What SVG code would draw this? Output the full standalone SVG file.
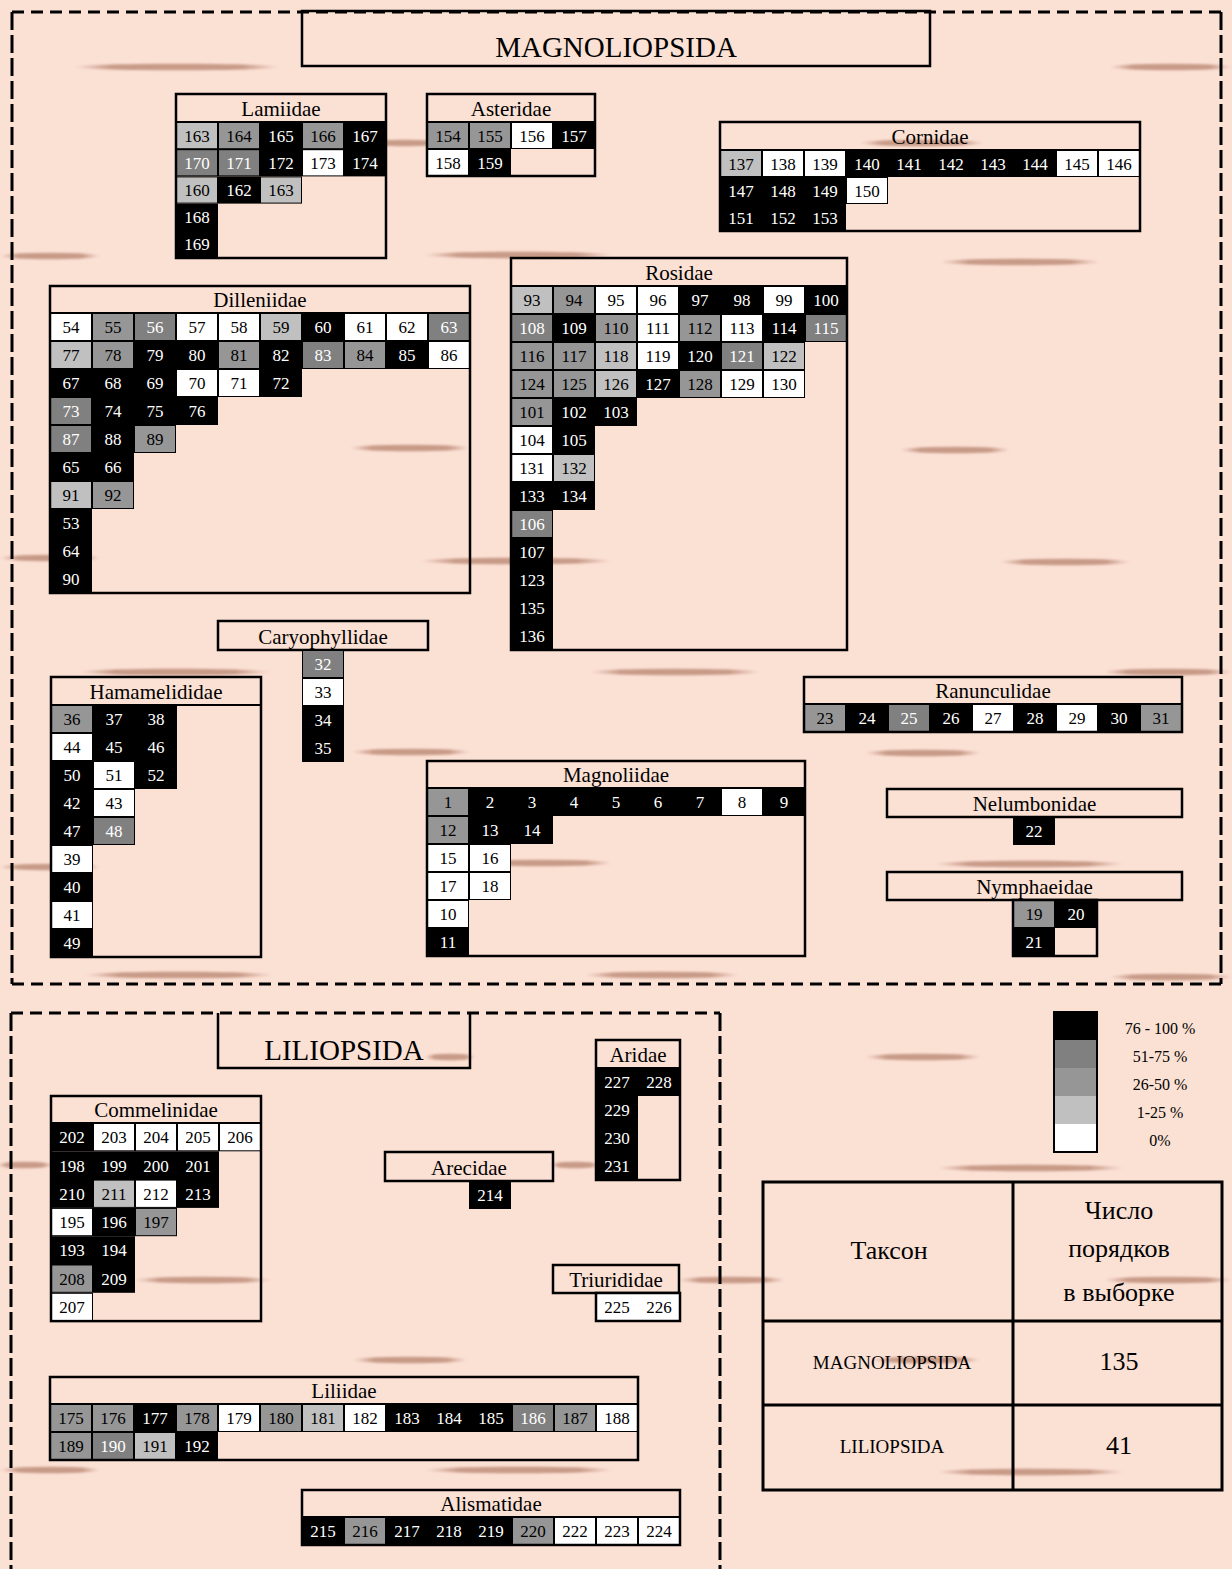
<svg xmlns="http://www.w3.org/2000/svg" width="1232" height="1569" viewBox="0 0 1232 1569">
<defs>
<linearGradient id="sg" x1="0" y1="0" x2="1" y2="0">
<stop offset="0" stop-color="#c39481" stop-opacity="0"/>
<stop offset="0.18" stop-color="#c39481" stop-opacity="0.9"/>
<stop offset="0.82" stop-color="#c39481" stop-opacity="0.9"/>
<stop offset="1" stop-color="#c39481" stop-opacity="0"/>
</linearGradient>
<filter id="bl" x="-10%" y="-200%" width="120%" height="500%"><feGaussianBlur stdDeviation="1.2"/></filter>
</defs>
<style>
.B{fill:#000}.W{fill:#fff}.L{fill:#c0c0c0}.M{fill:#969696}.D{fill:#808080}
.t{font-family:"Liberation Serif","Times New Roman",serif;font-size:17px;text-anchor:middle;fill:#000}
.w{fill:#fff}
.h{font-family:"Liberation Serif","Times New Roman",serif;font-size:21px;text-anchor:middle;fill:#000}
.ttl{font-family:"Liberation Serif","Times New Roman",serif;font-size:29px;text-anchor:middle;fill:#000}
.lg{font-family:"Liberation Serif","Times New Roman",serif;font-size:16px;text-anchor:middle;fill:#000}
.tb{font-family:"Liberation Serif","Times New Roman",serif;font-size:26px;text-anchor:middle;fill:#000}
.tbs{font-family:"Liberation Serif","Times New Roman",serif;font-size:19px;text-anchor:middle;fill:#000}
.o{fill:none;stroke:#000;stroke-width:2.5}
.hl{stroke:#000;stroke-width:2}
.dh{stroke:#000;stroke-width:3;stroke-dasharray:12 7;fill:none}
.dv{stroke:#000;stroke-width:3;stroke-dasharray:18 5;fill:none}
.st{fill:url(#sg);filter:url(#bl)}
</style>
<rect x="0" y="0" width="1232" height="1569" fill="#fbe0d4"/>
<g id="streaks">
<ellipse class="st" cx="177" cy="67" rx="103" ry="3.3"/>
<ellipse class="st" cx="1171" cy="67" rx="61" ry="3.3"/>
<ellipse class="st" cx="405" cy="143" rx="35" ry="3.3"/>
<ellipse class="st" cx="922" cy="143" rx="62" ry="3.3"/>
<ellipse class="st" cx="50" cy="256" rx="50" ry="3.3"/>
<ellipse class="st" cx="518" cy="255" rx="94" ry="3.3"/>
<ellipse class="st" cx="1020" cy="262" rx="80" ry="3.3"/>
<ellipse class="st" cx="410" cy="448" rx="60" ry="3.3"/>
<ellipse class="st" cx="955" cy="450" rx="55" ry="3.3"/>
<ellipse class="st" cx="516" cy="561" rx="96" ry="3.3"/>
<ellipse class="st" cx="50" cy="558" rx="50" ry="3.3"/>
<ellipse class="st" cx="1065" cy="562" rx="65" ry="3.3"/>
<ellipse class="st" cx="175" cy="672" rx="95" ry="3.3"/>
<ellipse class="st" cx="675" cy="672" rx="85" ry="3.3"/>
<ellipse class="st" cx="1168" cy="672" rx="64" ry="3.3"/>
<ellipse class="st" cx="411" cy="752" rx="59" ry="3.3"/>
<ellipse class="st" cx="923" cy="753" rx="58" ry="3.3"/>
<ellipse class="st" cx="50" cy="867" rx="50" ry="3.3"/>
<ellipse class="st" cx="541" cy="863" rx="71" ry="3.3"/>
<ellipse class="st" cx="1029" cy="864" rx="94" ry="3.3"/>
<ellipse class="st" cx="179" cy="975" rx="94" ry="3.3"/>
<ellipse class="st" cx="662" cy="975" rx="77" ry="3.3"/>
<ellipse class="st" cx="1171" cy="977" rx="61" ry="3.3"/>
<ellipse class="st" cx="450" cy="1057" rx="25" ry="3.3"/>
<ellipse class="st" cx="923" cy="1057" rx="58" ry="3.3"/>
<ellipse class="st" cx="25" cy="1165" rx="28" ry="3.3"/>
<ellipse class="st" cx="575" cy="1165" rx="25" ry="3.3"/>
<ellipse class="st" cx="1030" cy="1168" rx="93" ry="3.3"/>
<ellipse class="st" cx="203" cy="1280" rx="68" ry="3.3"/>
<ellipse class="st" cx="732" cy="1280" rx="53" ry="3.3"/>
<ellipse class="st" cx="1168" cy="1280" rx="64" ry="3.3"/>
<ellipse class="st" cx="926" cy="1360" rx="54" ry="3.3"/>
<ellipse class="st" cx="410" cy="1360" rx="57" ry="3.3"/>
<ellipse class="st" cx="50" cy="1470" rx="50" ry="3.3"/>
<ellipse class="st" cx="519" cy="1470" rx="94" ry="3.3"/>
<ellipse class="st" cx="1030" cy="1472" rx="93" ry="3.3"/>
</g>
<g id="frames">
<line class="dh" x1="12" y1="12" x2="1221" y2="12"/>
<line class="dh" x1="12" y1="984" x2="1221" y2="984"/>
<line class="dv" x1="12" y1="12" x2="12" y2="984"/>
<line class="dv" x1="1221" y1="12" x2="1221" y2="984"/>
<line class="dh" x1="11" y1="1013" x2="720" y2="1013"/>
<line class="dv" x1="11" y1="1013" x2="11" y2="1569"/>
<line class="dv" x1="720" y1="1013" x2="720" y2="1569"/>
</g>
<g id="magnoliopsida-title">
<rect class="o" x="302" y="11" width="628" height="55"/>
<text class="ttl" x="616" y="57">MAGNOLIOPSIDA</text>
</g>
<g id="liliopsida-title">
<path class="o" d="M218,1013 V1068 H470 V1013"/>
<text class="ttl" x="344" y="1060">LILIOPSIDA</text>
</g>
<g id="lamiidae">
<rect class="B" x="176" y="122" width="210" height="54.4"/>
<rect class="B" x="176" y="176.4" width="126" height="27.2"/>
<rect class="B" x="176" y="203.6" width="42" height="54.4"/>
<rect class="L" x="177" y="123" width="40" height="25.2"/>
<rect class="M" x="219" y="123" width="40" height="25.2"/>
<rect class="M" x="303" y="123" width="40" height="25.2"/>
<rect class="D" x="177" y="150.2" width="40" height="25.2"/>
<rect class="D" x="219" y="150.2" width="40" height="25.2"/>
<rect class="W" x="303" y="150.2" width="40" height="25.2"/>
<rect class="L" x="177" y="177.4" width="40" height="25.2"/>
<rect class="L" x="261" y="177.4" width="40" height="25.2"/>
<rect class="o" x="176" y="94" width="210" height="164"/>
<line class="hl" x1="176" y1="122" x2="386" y2="122"/>
<text class="h" x="281" y="116">Lamiidae</text>
<text class="t" x="197" y="141.6">163</text><text class="t" x="239" y="141.6">164</text><text class="t w" x="281" y="141.6">165</text><text class="t" x="323" y="141.6">166</text><text class="t w" x="365" y="141.6">167</text>
<text class="t w" x="197" y="168.8">170</text><text class="t w" x="239" y="168.8">171</text><text class="t w" x="281" y="168.8">172</text><text class="t" x="323" y="168.8">173</text><text class="t w" x="365" y="168.8">174</text>
<text class="t" x="197" y="196">160</text><text class="t w" x="239" y="196">162</text><text class="t" x="281" y="196">163</text>
<text class="t w" x="197" y="223.2">168</text>
<text class="t w" x="197" y="250.4">169</text>
</g>
<g id="asteridae">
<rect class="B" x="427" y="122" width="168" height="27"/>
<rect class="B" x="427" y="149" width="84" height="27"/>
<rect class="M" x="428" y="123" width="40" height="25"/>
<rect class="M" x="470" y="123" width="40" height="25"/>
<rect class="W" x="512" y="123" width="40" height="25"/>
<rect class="W" x="428" y="150" width="40" height="25"/>
<rect class="o" x="427" y="94" width="168" height="82"/>
<line class="hl" x1="427" y1="122" x2="595" y2="122"/>
<text class="h" x="511" y="116">Asteridae</text>
<text class="t" x="448" y="141.5">154</text><text class="t" x="490" y="141.5">155</text><text class="t" x="532" y="141.5">156</text><text class="t w" x="574" y="141.5">157</text>
<text class="t" x="448" y="168.5">158</text><text class="t w" x="490" y="168.5">159</text>
</g>
<g id="cornidae">
<rect class="B" x="720" y="150" width="420" height="27"/>
<rect class="B" x="720" y="177" width="168" height="27"/>
<rect class="B" x="720" y="204" width="126" height="27"/>
<rect class="L" x="721" y="151" width="40" height="25"/>
<rect class="W" x="763" y="151" width="40" height="25"/>
<rect class="W" x="805" y="151" width="40" height="25"/>
<rect class="W" x="1057" y="151" width="40" height="25"/>
<rect class="W" x="1099" y="151" width="40" height="25"/>
<rect class="W" x="847" y="178" width="40" height="25"/>
<rect class="o" x="720" y="122" width="420" height="109"/>
<line class="hl" x1="720" y1="150" x2="1140" y2="150"/>
<text class="h" x="930" y="144">Cornidae</text>
<text class="t" x="741" y="169.5">137</text><text class="t" x="783" y="169.5">138</text><text class="t" x="825" y="169.5">139</text><text class="t w" x="867" y="169.5">140</text><text class="t w" x="909" y="169.5">141</text><text class="t w" x="951" y="169.5">142</text><text class="t w" x="993" y="169.5">143</text><text class="t w" x="1035" y="169.5">144</text><text class="t" x="1077" y="169.5">145</text><text class="t" x="1119" y="169.5">146</text>
<text class="t w" x="741" y="196.5">147</text><text class="t w" x="783" y="196.5">148</text><text class="t w" x="825" y="196.5">149</text><text class="t" x="867" y="196.5">150</text>
<text class="t w" x="741" y="223.5">151</text><text class="t w" x="783" y="223.5">152</text><text class="t w" x="825" y="223.5">153</text>
</g>
<g id="dilleniidae">
<rect class="B" x="50" y="313" width="420" height="56"/>
<rect class="B" x="50" y="369" width="252" height="28"/>
<rect class="B" x="50" y="397" width="168" height="28"/>
<rect class="B" x="50" y="425" width="126" height="28"/>
<rect class="B" x="50" y="453" width="84" height="56"/>
<rect class="B" x="50" y="509" width="42" height="84"/>
<rect class="W" x="51" y="314" width="40" height="26"/>
<rect class="M" x="93" y="314" width="40" height="26"/>
<rect class="D" x="135" y="314" width="40" height="26"/>
<rect class="W" x="177" y="314" width="40" height="26"/>
<rect class="W" x="219" y="314" width="40" height="26"/>
<rect class="L" x="261" y="314" width="40" height="26"/>
<rect class="W" x="345" y="314" width="40" height="26"/>
<rect class="W" x="387" y="314" width="40" height="26"/>
<rect class="D" x="429" y="314" width="40" height="26"/>
<rect class="L" x="51" y="342" width="40" height="26"/>
<rect class="M" x="93" y="342" width="40" height="26"/>
<rect class="M" x="219" y="342" width="40" height="26"/>
<rect class="D" x="303" y="342" width="40" height="26"/>
<rect class="M" x="345" y="342" width="40" height="26"/>
<rect class="W" x="429" y="342" width="40" height="26"/>
<rect class="W" x="177" y="370" width="40" height="26"/>
<rect class="W" x="219" y="370" width="40" height="26"/>
<rect class="D" x="51" y="398" width="40" height="26"/>
<rect class="D" x="51" y="426" width="40" height="26"/>
<rect class="M" x="135" y="426" width="40" height="26"/>
<rect class="L" x="51" y="482" width="40" height="26"/>
<rect class="M" x="93" y="482" width="40" height="26"/>
<rect class="o" x="50" y="286" width="420" height="307"/>
<line class="hl" x1="50" y1="313" x2="470" y2="313"/>
<text class="h" x="260" y="307">Dilleniidae</text>
<text class="t" x="71" y="333">54</text><text class="t" x="113" y="333">55</text><text class="t w" x="155" y="333">56</text><text class="t" x="197" y="333">57</text><text class="t" x="239" y="333">58</text><text class="t" x="281" y="333">59</text><text class="t w" x="323" y="333">60</text><text class="t" x="365" y="333">61</text><text class="t" x="407" y="333">62</text><text class="t w" x="449" y="333">63</text>
<text class="t" x="71" y="361">77</text><text class="t" x="113" y="361">78</text><text class="t w" x="155" y="361">79</text><text class="t w" x="197" y="361">80</text><text class="t" x="239" y="361">81</text><text class="t w" x="281" y="361">82</text><text class="t w" x="323" y="361">83</text><text class="t" x="365" y="361">84</text><text class="t w" x="407" y="361">85</text><text class="t" x="449" y="361">86</text>
<text class="t w" x="71" y="389">67</text><text class="t w" x="113" y="389">68</text><text class="t w" x="155" y="389">69</text><text class="t" x="197" y="389">70</text><text class="t" x="239" y="389">71</text><text class="t w" x="281" y="389">72</text>
<text class="t w" x="71" y="417">73</text><text class="t w" x="113" y="417">74</text><text class="t w" x="155" y="417">75</text><text class="t w" x="197" y="417">76</text>
<text class="t w" x="71" y="445">87</text><text class="t w" x="113" y="445">88</text><text class="t" x="155" y="445">89</text>
<text class="t w" x="71" y="473">65</text><text class="t w" x="113" y="473">66</text>
<text class="t" x="71" y="501">91</text><text class="t" x="113" y="501">92</text>
<text class="t w" x="71" y="529">53</text>
<text class="t w" x="71" y="557">64</text>
<text class="t w" x="71" y="585">90</text>
</g>
<g id="rosidae">
<rect class="B" x="511" y="286" width="336" height="56"/>
<rect class="B" x="511" y="342" width="294" height="56"/>
<rect class="B" x="511" y="398" width="126" height="28"/>
<rect class="B" x="511" y="426" width="84" height="84"/>
<rect class="B" x="511" y="510" width="42" height="140"/>
<rect class="L" x="512" y="287" width="40" height="26"/>
<rect class="M" x="554" y="287" width="40" height="26"/>
<rect class="W" x="596" y="287" width="40" height="26"/>
<rect class="W" x="638" y="287" width="40" height="26"/>
<rect class="W" x="764" y="287" width="40" height="26"/>
<rect class="D" x="512" y="315" width="40" height="26"/>
<rect class="M" x="596" y="315" width="40" height="26"/>
<rect class="W" x="638" y="315" width="40" height="26"/>
<rect class="M" x="680" y="315" width="40" height="26"/>
<rect class="W" x="722" y="315" width="40" height="26"/>
<rect class="D" x="806" y="315" width="40" height="26"/>
<rect class="M" x="512" y="343" width="40" height="26"/>
<rect class="M" x="554" y="343" width="40" height="26"/>
<rect class="L" x="596" y="343" width="40" height="26"/>
<rect class="W" x="638" y="343" width="40" height="26"/>
<rect class="D" x="722" y="343" width="40" height="26"/>
<rect class="L" x="764" y="343" width="40" height="26"/>
<rect class="M" x="512" y="371" width="40" height="26"/>
<rect class="M" x="554" y="371" width="40" height="26"/>
<rect class="L" x="596" y="371" width="40" height="26"/>
<rect class="M" x="680" y="371" width="40" height="26"/>
<rect class="W" x="722" y="371" width="40" height="26"/>
<rect class="W" x="764" y="371" width="40" height="26"/>
<rect class="M" x="512" y="399" width="40" height="26"/>
<rect class="W" x="512" y="427" width="40" height="26"/>
<rect class="W" x="512" y="455" width="40" height="26"/>
<rect class="L" x="554" y="455" width="40" height="26"/>
<rect class="D" x="512" y="511" width="40" height="26"/>
<rect class="o" x="511" y="258" width="336" height="392"/>
<line class="hl" x1="511" y1="286" x2="847" y2="286"/>
<text class="h" x="679" y="280">Rosidae</text>
<text class="t" x="532" y="306">93</text><text class="t" x="574" y="306">94</text><text class="t" x="616" y="306">95</text><text class="t" x="658" y="306">96</text><text class="t w" x="700" y="306">97</text><text class="t w" x="742" y="306">98</text><text class="t" x="784" y="306">99</text><text class="t w" x="826" y="306">100</text>
<text class="t w" x="532" y="334">108</text><text class="t w" x="574" y="334">109</text><text class="t" x="616" y="334">110</text><text class="t" x="658" y="334">111</text><text class="t" x="700" y="334">112</text><text class="t" x="742" y="334">113</text><text class="t w" x="784" y="334">114</text><text class="t w" x="826" y="334">115</text>
<text class="t" x="532" y="362">116</text><text class="t" x="574" y="362">117</text><text class="t" x="616" y="362">118</text><text class="t" x="658" y="362">119</text><text class="t w" x="700" y="362">120</text><text class="t w" x="742" y="362">121</text><text class="t" x="784" y="362">122</text>
<text class="t" x="532" y="390">124</text><text class="t" x="574" y="390">125</text><text class="t" x="616" y="390">126</text><text class="t w" x="658" y="390">127</text><text class="t" x="700" y="390">128</text><text class="t" x="742" y="390">129</text><text class="t" x="784" y="390">130</text>
<text class="t" x="532" y="418">101</text><text class="t w" x="574" y="418">102</text><text class="t w" x="616" y="418">103</text>
<text class="t" x="532" y="446">104</text><text class="t w" x="574" y="446">105</text>
<text class="t" x="532" y="474">131</text><text class="t" x="574" y="474">132</text>
<text class="t w" x="532" y="502">133</text><text class="t w" x="574" y="502">134</text>
<text class="t w" x="532" y="530">106</text>
<text class="t w" x="532" y="558">107</text>
<text class="t w" x="532" y="586">123</text>
<text class="t w" x="532" y="614">135</text>
<text class="t w" x="532" y="642">136</text>
</g>
<g id="caryophyllidae">
<rect class="o" x="218" y="621" width="210" height="29"/>
<text class="h" x="323" y="644">Caryophyllidae</text>
<rect class="B" x="302" y="650" width="42" height="112"/>
<rect class="D" x="303" y="651" width="40" height="26"/>
<rect class="W" x="303" y="679" width="40" height="26"/>
<text class="t w" x="323" y="670">32</text>
<text class="t" x="323" y="698">33</text>
<text class="t w" x="323" y="726">34</text>
<text class="t w" x="323" y="754">35</text>
</g>
<g id="hamamelididae">
<rect class="B" x="51" y="705" width="126" height="84"/>
<rect class="B" x="51" y="789" width="84" height="56"/>
<rect class="B" x="51" y="845" width="42" height="112"/>
<rect class="M" x="52" y="706" width="40" height="26"/>
<rect class="W" x="52" y="734" width="40" height="26"/>
<rect class="W" x="94" y="762" width="40" height="26"/>
<rect class="W" x="94" y="790" width="40" height="26"/>
<rect class="D" x="94" y="818" width="40" height="26"/>
<rect class="W" x="52" y="846" width="40" height="26"/>
<rect class="W" x="52" y="902" width="40" height="26"/>
<rect class="o" x="51" y="677" width="210" height="280"/>
<line class="hl" x1="51" y1="705" x2="261" y2="705"/>
<text class="h" x="156" y="699">Hamamelididae</text>
<text class="t" x="72" y="725">36</text><text class="t w" x="114" y="725">37</text><text class="t w" x="156" y="725">38</text>
<text class="t" x="72" y="753">44</text><text class="t w" x="114" y="753">45</text><text class="t w" x="156" y="753">46</text>
<text class="t w" x="72" y="781">50</text><text class="t" x="114" y="781">51</text><text class="t w" x="156" y="781">52</text>
<text class="t w" x="72" y="809">42</text><text class="t" x="114" y="809">43</text>
<text class="t w" x="72" y="837">47</text><text class="t w" x="114" y="837">48</text>
<text class="t" x="72" y="865">39</text>
<text class="t w" x="72" y="893">40</text>
<text class="t" x="72" y="921">41</text>
<text class="t w" x="72" y="949">49</text>
</g>
<g id="magnoliidae">
<rect class="B" x="427" y="788" width="378" height="28"/>
<rect class="B" x="427" y="816" width="126" height="28"/>
<rect class="B" x="427" y="844" width="84" height="56"/>
<rect class="B" x="427" y="900" width="42" height="56"/>
<rect class="M" x="428" y="789" width="40" height="26"/>
<rect class="W" x="722" y="789" width="40" height="26"/>
<rect class="M" x="428" y="817" width="40" height="26"/>
<rect class="W" x="428" y="845" width="40" height="26"/>
<rect class="W" x="470" y="845" width="40" height="26"/>
<rect class="W" x="428" y="873" width="40" height="26"/>
<rect class="W" x="470" y="873" width="40" height="26"/>
<rect class="W" x="428" y="901" width="40" height="26"/>
<rect class="o" x="427" y="761" width="378" height="195"/>
<line class="hl" x1="427" y1="788" x2="805" y2="788"/>
<text class="h" x="616" y="782">Magnoliidae</text>
<text class="t" x="448" y="808">1</text><text class="t w" x="490" y="808">2</text><text class="t w" x="532" y="808">3</text><text class="t w" x="574" y="808">4</text><text class="t w" x="616" y="808">5</text><text class="t w" x="658" y="808">6</text><text class="t w" x="700" y="808">7</text><text class="t" x="742" y="808">8</text><text class="t w" x="784" y="808">9</text>
<text class="t" x="448" y="836">12</text><text class="t w" x="490" y="836">13</text><text class="t w" x="532" y="836">14</text>
<text class="t" x="448" y="864">15</text><text class="t" x="490" y="864">16</text>
<text class="t" x="448" y="892">17</text><text class="t" x="490" y="892">18</text>
<text class="t" x="448" y="920">10</text>
<text class="t w" x="448" y="948">11</text>
</g>
<g id="ranunculidae">
<rect class="B" x="804" y="704" width="378" height="28"/>
<rect class="M" x="805" y="705" width="40" height="26"/>
<rect class="D" x="889" y="705" width="40" height="26"/>
<rect class="W" x="973" y="705" width="40" height="26"/>
<rect class="W" x="1057" y="705" width="40" height="26"/>
<rect class="M" x="1141" y="705" width="40" height="26"/>
<rect class="o" x="804" y="677" width="378" height="55"/>
<line class="hl" x1="804" y1="704" x2="1182" y2="704"/>
<text class="h" x="993" y="698">Ranunculidae</text>
<text class="t" x="825" y="724">23</text><text class="t w" x="867" y="724">24</text><text class="t w" x="909" y="724">25</text><text class="t w" x="951" y="724">26</text><text class="t" x="993" y="724">27</text><text class="t w" x="1035" y="724">28</text><text class="t" x="1077" y="724">29</text><text class="t w" x="1119" y="724">30</text><text class="t" x="1161" y="724">31</text>
</g>
<g id="nelumbonidae">
<rect class="o" x="887" y="789" width="295" height="28"/>
<text class="h" x="1034.5" y="811">Nelumbonidae</text>
<rect class="B" x="1013" y="817" width="42" height="28"/>
<text class="t w" x="1034" y="837">22</text>
</g>
<g id="nymphaeidae">
<rect class="o" x="887" y="872" width="295" height="28"/>
<text class="h" x="1034.5" y="894">Nymphaeidae</text>
<rect class="B" x="1013" y="900" width="84" height="28"/>
<rect class="B" x="1013" y="928" width="42" height="28"/>
<rect class="M" x="1014" y="901" width="40" height="26"/>
<rect class="o" x="1013" y="900" width="84" height="56"/>
<text class="t" x="1034" y="920">19</text><text class="t w" x="1076" y="920">20</text>
<text class="t w" x="1034" y="948">21</text>
</g>
<g id="aridae">
<rect class="B" x="596" y="1068" width="84" height="28"/>
<rect class="B" x="596" y="1096" width="42" height="84"/>
<rect class="o" x="596" y="1040" width="84" height="140"/>
<line class="hl" x1="596" y1="1068" x2="680" y2="1068"/>
<text class="h" x="638" y="1062">Aridae</text>
<text class="t w" x="617" y="1088">227</text><text class="t w" x="659" y="1088">228</text>
<text class="t w" x="617" y="1116">229</text>
<text class="t w" x="617" y="1144">230</text>
<text class="t w" x="617" y="1172">231</text>
</g>
<g id="commelinidae">
<rect class="B" x="51" y="1123" width="210" height="28.3"/>
<rect class="B" x="51" y="1151.3" width="168" height="56.6"/>
<rect class="B" x="51" y="1207.9" width="126" height="28.3"/>
<rect class="B" x="51" y="1236.2" width="84" height="56.6"/>
<rect class="B" x="51" y="1292.8" width="42" height="28.3"/>
<rect class="W" x="94" y="1124" width="40" height="26.3"/>
<rect class="W" x="136" y="1124" width="40" height="26.3"/>
<rect class="W" x="178" y="1124" width="40" height="26.3"/>
<rect class="W" x="220" y="1124" width="40" height="26.3"/>
<rect class="L" x="94" y="1180.6" width="40" height="26.3"/>
<rect class="W" x="136" y="1180.6" width="40" height="26.3"/>
<rect class="W" x="52" y="1208.9" width="40" height="26.3"/>
<rect class="M" x="136" y="1208.9" width="40" height="26.3"/>
<rect class="M" x="52" y="1265.5" width="40" height="26.3"/>
<rect class="W" x="52" y="1293.8" width="40" height="26.3"/>
<rect class="o" x="51" y="1096" width="210" height="225.1"/>
<line class="hl" x1="51" y1="1123" x2="261" y2="1123"/>
<text class="h" x="156" y="1117">Commelinidae</text>
<text class="t w" x="72" y="1143.2">202</text><text class="t" x="114" y="1143.2">203</text><text class="t" x="156" y="1143.2">204</text><text class="t" x="198" y="1143.2">205</text><text class="t" x="240" y="1143.2">206</text>
<text class="t w" x="72" y="1171.5">198</text><text class="t w" x="114" y="1171.5">199</text><text class="t w" x="156" y="1171.5">200</text><text class="t w" x="198" y="1171.5">201</text>
<text class="t w" x="72" y="1199.8">210</text><text class="t" x="114" y="1199.8">211</text><text class="t" x="156" y="1199.8">212</text><text class="t w" x="198" y="1199.8">213</text>
<text class="t" x="72" y="1228.1">195</text><text class="t w" x="114" y="1228.1">196</text><text class="t" x="156" y="1228.1">197</text>
<text class="t w" x="72" y="1256.4">193</text><text class="t w" x="114" y="1256.4">194</text>
<text class="t" x="72" y="1284.7">208</text><text class="t w" x="114" y="1284.7">209</text>
<text class="t" x="72" y="1313">207</text>
</g>
<g id="arecidae">
<rect class="o" x="385" y="1152" width="168" height="29"/>
<text class="h" x="469" y="1175">Arecidae</text>
<rect class="B" x="469" y="1181" width="42" height="28"/>
<text class="t w" x="490" y="1201">214</text>
</g>
<g id="triurididae">
<rect class="o" x="553" y="1265" width="126" height="28"/>
<text class="h" x="616" y="1287">Triurididae</text>
<rect x="596" y="1293" width="84" height="28" fill="#fff" stroke="#000" stroke-width="2.5"/>
<text class="t" x="617" y="1313">225</text><text class="t" x="659" y="1313">226</text>
</g>
<g id="liliidae">
<rect class="B" x="50" y="1404" width="588" height="28"/>
<rect class="B" x="50" y="1432" width="168" height="28"/>
<rect class="M" x="51" y="1405" width="40" height="26"/>
<rect class="M" x="93" y="1405" width="40" height="26"/>
<rect class="M" x="177" y="1405" width="40" height="26"/>
<rect class="W" x="219" y="1405" width="40" height="26"/>
<rect class="M" x="261" y="1405" width="40" height="26"/>
<rect class="L" x="303" y="1405" width="40" height="26"/>
<rect class="W" x="345" y="1405" width="40" height="26"/>
<rect class="D" x="513" y="1405" width="40" height="26"/>
<rect class="M" x="555" y="1405" width="40" height="26"/>
<rect class="W" x="597" y="1405" width="40" height="26"/>
<rect class="M" x="51" y="1433" width="40" height="26"/>
<rect class="D" x="93" y="1433" width="40" height="26"/>
<rect class="L" x="135" y="1433" width="40" height="26"/>
<rect class="o" x="50" y="1377" width="588" height="83"/>
<line class="hl" x1="50" y1="1404" x2="638" y2="1404"/>
<text class="h" x="344" y="1398">Liliidae</text>
<text class="t" x="71" y="1424">175</text><text class="t" x="113" y="1424">176</text><text class="t w" x="155" y="1424">177</text><text class="t" x="197" y="1424">178</text><text class="t" x="239" y="1424">179</text><text class="t" x="281" y="1424">180</text><text class="t" x="323" y="1424">181</text><text class="t" x="365" y="1424">182</text><text class="t w" x="407" y="1424">183</text><text class="t w" x="449" y="1424">184</text><text class="t w" x="491" y="1424">185</text><text class="t w" x="533" y="1424">186</text><text class="t" x="575" y="1424">187</text><text class="t" x="617" y="1424">188</text>
<text class="t" x="71" y="1452">189</text><text class="t w" x="113" y="1452">190</text><text class="t" x="155" y="1452">191</text><text class="t w" x="197" y="1452">192</text>
</g>
<g id="alismatidae">
<rect class="B" x="302" y="1517" width="378" height="28"/>
<rect class="M" x="345" y="1518" width="40" height="26"/>
<rect class="M" x="513" y="1518" width="40" height="26"/>
<rect class="W" x="555" y="1518" width="40" height="26"/>
<rect class="W" x="597" y="1518" width="40" height="26"/>
<rect class="W" x="639" y="1518" width="40" height="26"/>
<rect class="o" x="302" y="1490" width="378" height="55"/>
<line class="hl" x1="302" y1="1517" x2="680" y2="1517"/>
<text class="h" x="491" y="1511">Alismatidae</text>
<text class="t w" x="323" y="1537">215</text><text class="t" x="365" y="1537">216</text><text class="t w" x="407" y="1537">217</text><text class="t w" x="449" y="1537">218</text><text class="t w" x="491" y="1537">219</text><text class="t" x="533" y="1537">220</text><text class="t" x="575" y="1537">222</text><text class="t" x="617" y="1537">223</text><text class="t" x="659" y="1537">224</text>
</g>
<g id="legend">
<rect class="B" x="1054" y="1012" width="43" height="28"/>
<rect class="D" x="1054" y="1040" width="43" height="28"/>
<rect class="M" x="1054" y="1068" width="43" height="28"/>
<rect class="L" x="1054" y="1096" width="43" height="28"/>
<rect class="W" x="1054" y="1124" width="43" height="28"/>
<rect x="1054" y="1012" width="43" height="140" fill="none" stroke="#000" stroke-width="2"/>
<text class="lg" x="1160" y="1034">76 - 100 %</text>
<text class="lg" x="1160" y="1062">51-75 %</text>
<text class="lg" x="1160" y="1090">26-50 %</text>
<text class="lg" x="1160" y="1118">1-25 %</text>
<text class="lg" x="1160" y="1146">0%</text>
</g>
<g id="summary-table">
<rect x="763" y="1182" width="459" height="308" fill="none" stroke="#000" stroke-width="3"/>
<line x1="1013" y1="1182" x2="1013" y2="1490" stroke="#000" stroke-width="3"/>
<line x1="763" y1="1321" x2="1222" y2="1321" stroke="#000" stroke-width="3"/>
<line x1="763" y1="1405" x2="1222" y2="1405" stroke="#000" stroke-width="3"/>
<text class="tb" x="889" y="1259">Таксон</text>
<text class="tb" x="1119" y="1219">Число</text>
<text class="tb" x="1119" y="1257">порядков</text>
<text class="tb" x="1119" y="1301">в выборке</text>
<text class="tbs" x="892" y="1369">MAGNOLIOPSIDA</text>
<text class="tb" x="1119" y="1370">135</text>
<text class="tbs" x="892" y="1453">LILIOPSIDA</text>
<text class="tb" x="1119" y="1454">41</text>
</g>
</svg>
